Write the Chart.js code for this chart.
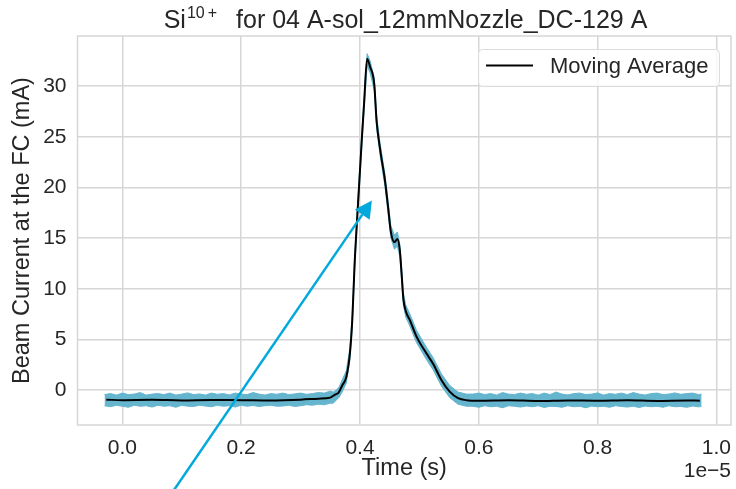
<!DOCTYPE html>
<html>
<head>
<meta charset="utf-8">
<script src="https://cdn.jsdelivr.net/npm/chart.js@4.4.1/dist/chart.umd.min.js"></script>
<style>
    html, body { margin: 0; padding: 0; background: #fff; }
    #beamChart { display: block; }
</style>
</head>
<body>
<canvas id="beamChart" width="736" height="489"></canvas>
<script>
// =========================================================================
// DATA (time in units of 1e-5 s, current in mA)
// =========================================================================
const maTime = [-0.027, 0.0, 0.05, 0.1, 0.15, 0.2, 0.25, 0.3, 0.33, 0.35, 0.358, 0.364, 0.37, 0.377, 0.383, 0.387, 0.391, 0.397, 0.403, 0.407,
    0.412, 0.417, 0.424, 0.428, 0.434, 0.442, 0.447, 0.452, 0.458, 0.463, 0.467, 0.47, 0.473, 0.477, 0.484, 0.495, 0.512, 0.523, 0.537, 0.551,
    0.565, 0.579, 0.6, 0.65, 0.7, 0.75, 0.8, 0.85, 0.9, 0.95, 0.972];
const maValue = [-0.95, -1.0, -0.97, -1.02, -0.98, -1.0, -1.03, -0.95, -0.85, -0.75, -0.45, -0.25, 0.45, 1.3, 3.6, 6.9, 12.5, 18.7, 24.7, 28.4,
    32.7, 31.9, 30.2, 26.5, 23.7, 20.7, 18.2, 15.6, 14.6, 14.9, 13.8, 11.5, 9.0, 7.8, 6.9, 5.3, 3.6, 2.6, 1.0, -0.16,
    -0.8, -1.0, -1.05, -1.0, -1.08, -1.02, -1.05, -1.0, -1.07, -1.03, -1.05];

// raw signal envelope (upper / lower edge of the noisy trace)
const bandTime = [-0.03, -0.02, -0.01, 0.0, 0.01, 0.02, 0.03, 0.04, 0.05, 0.06, 0.07, 0.08, 0.09, 0.1, 0.11, 0.12, 0.13, 0.14, 0.15, 0.16,
    0.17, 0.18, 0.19, 0.2, 0.21, 0.22, 0.23, 0.24, 0.25, 0.26, 0.27, 0.28, 0.29, 0.3, 0.31, 0.32, 0.33, 0.34, 0.35,
    0.355, 0.36, 0.365, 0.37, 0.377, 0.383, 0.387, 0.391, 0.397, 0.403, 0.407, 0.412, 0.417, 0.424, 0.428, 0.434, 0.442, 0.447, 0.452, 0.458,
    0.463, 0.467, 0.47, 0.473, 0.477, 0.484, 0.495, 0.512, 0.523, 0.537, 0.551, 0.565, 0.579,
    0.59, 0.6, 0.61, 0.62, 0.63, 0.64, 0.65, 0.66, 0.67, 0.68, 0.69, 0.7, 0.71, 0.72, 0.73, 0.74, 0.75, 0.76, 0.77, 0.78,
    0.79, 0.8, 0.81, 0.82, 0.83, 0.84, 0.85, 0.86, 0.87, 0.88, 0.89, 0.9, 0.91, 0.92, 0.93, 0.94, 0.95, 0.96, 0.97, 0.975];
const bandHigh = [-0.45, -0.35, -0.5, -0.3, -0.45, -0.4, -0.25, -0.5, -0.4, -0.35, -0.45, -0.3, -0.5, -0.4, -0.28, -0.45, -0.38, -0.5, -0.3, -0.42,
    -0.35, -0.48, -0.3, -0.4, -0.45, -0.25, -0.4, -0.5, -0.35, -0.42, -0.3, -0.45, -0.38, -0.3, -0.42, -0.35, -0.25, -0.3, -0.1,
    -0.2, 0.0, 0.3, 1.0, 1.9, 4.2, 7.5, 13.1, 19.3, 25.3, 29.0, 33.2, 32.5, 30.8, 27.1, 24.3, 21.3, 18.8, 16.2, 15.3,
    15.6, 14.4, 12.1, 9.6, 8.4, 7.5, 5.9, 4.2, 3.2, 1.6, 0.45, -0.2, -0.4,
    -0.4, -0.3, -0.45, -0.35, -0.5, -0.25, -0.4, -0.45, -0.3, -0.42, -0.35, -0.5, -0.3, -0.45, -0.2, -0.4, -0.48, -0.35, -0.3, -0.45,
    -0.4, -0.28, -0.5, -0.35, -0.42, -0.3, -0.45, -0.25, -0.4, -0.5, -0.35, -0.3, -0.45, -0.4, -0.28, -0.42, -0.35, -0.3, -0.45, -0.4];
const bandLow = [-1.55, -1.65, -1.5, -1.6, -1.7, -1.5, -1.6, -1.55, -1.68, -1.5, -1.6, -1.55, -1.7, -1.5, -1.6, -1.62, -1.5, -1.58, -1.65, -1.5,
    -1.6, -1.55, -1.68, -1.5, -1.6, -1.52, -1.62, -1.55, -1.5, -1.6, -1.58, -1.5, -1.62, -1.55, -1.45, -1.5, -1.4, -1.45, -1.3,
    -1.3, -1.0, -0.7, -0.2, 0.7, 3.0, 6.3, 11.9, 18.1, 24.1, 27.8, 32.0, 31.3, 29.6, 25.9, 23.1, 20.1, 17.6, 15.0, 13.9,
    14.2, 13.2, 10.9, 8.4, 7.2, 6.3, 4.7, 3.0, 2.0, 0.4, -0.75, -1.4, -1.6,
    -1.6, -1.7, -1.55, -1.65, -1.6, -1.75, -1.55, -1.6, -1.68, -1.58, -1.65, -1.55, -1.72, -1.6, -1.62, -1.7, -1.55, -1.65, -1.6, -1.75,
    -1.58, -1.65, -1.6, -1.7, -1.55, -1.62, -1.68, -1.6, -1.72, -1.58, -1.65, -1.6, -1.7, -1.55, -1.65, -1.62, -1.7, -1.58, -1.66, -1.6];

const xTicks = [0.0, 0.2, 0.4, 0.6, 0.8, 1.0];
const yTicks = [0, 5, 10, 15, 20, 25, 30];

// annotation arrow (data coords)
const arrowTail = [0.062, -12];
const arrowTip = [0.42, 18.7];

// =========================================================================
// STYLE
// =========================================================================
const FONT = '"Liberation Sans", Arial, sans-serif';
const TEXT = '#262626';
const GRID = '#d6d6d6';
const RAW = '#64b5cd';
const ARROW = '#03a9db';

const toXY = (xs, ys) => xs.map((v, i) => ({ x: v, y: ys[i] }));

const overlay = {
    id: 'overlay',
    afterDraw(chart) {
        const { ctx, chartArea: a, scales: { x, y } } = chart;
        ctx.save();

        // frame (spines)
        ctx.strokeStyle = GRID;
        ctx.lineWidth = 1.5;
        ctx.strokeRect(a.left, a.top, a.right - a.left, a.bottom - a.top);

        // arrow
        const p0 = { x: x.getPixelForValue(arrowTail[0]), y: y.getPixelForValue(arrowTail[1]) };
        const p1 = { x: x.getPixelForValue(arrowTip[0]), y: y.getPixelForValue(arrowTip[1]) };
        const ang = Math.atan2(p1.y - p0.y, p1.x - p0.x);
        const headLen = 17, headHalf = 9;
        const bx = p1.x - headLen * Math.cos(ang), by = p1.y - headLen * Math.sin(ang);
        ctx.strokeStyle = ARROW;
        ctx.fillStyle = ARROW;
        ctx.lineWidth = 2.5;
        ctx.beginPath();
        ctx.moveTo(p0.x, p0.y);
        ctx.lineTo(bx, by);
        ctx.stroke();
        ctx.beginPath();
        ctx.moveTo(p1.x, p1.y);
        ctx.lineTo(bx + headHalf * Math.sin(ang), by - headHalf * Math.cos(ang));
        ctx.lineTo(bx - headHalf * Math.sin(ang), by + headHalf * Math.cos(ang));
        ctx.closePath();
        ctx.fill();

        // legend
        ctx.fillStyle = 'rgba(255,255,255,0.8)';
        ctx.strokeStyle = '#dcdcdc';
        ctx.lineWidth = 1;
        ctx.beginPath();
        ctx.roundRect(478.5, 49.5, 241, 37, 4);
        ctx.fill();
        ctx.stroke();
        ctx.strokeStyle = '#000';
        ctx.lineWidth = 2;
        ctx.beginPath();
        ctx.moveTo(486, 65.5);
        ctx.lineTo(533, 65.5);
        ctx.stroke();
        ctx.fillStyle = TEXT;
        ctx.font = '22px ' + FONT;
        ctx.textAlign = 'left';
        ctx.textBaseline = 'middle';
        ctx.fillText('Moving Average', 550, 67);

        // title with superscript "10 +"
        ctx.textBaseline = 'alphabetic';
        const mainFont = '25px ' + FONT, supFont = '16px ' + FONT;
        ctx.font = mainFont;
        const wSi = ctx.measureText('Si').width;
        const rest = 'for 04 A-sol_12mmNozzle_DC-129 A';
        const wRest = ctx.measureText(rest).width;
        ctx.font = supFont;
        const w10 = ctx.measureText('10').width;
        const wPlus = ctx.measureText('+').width;
        const supGap = 3, gap = 19;
        let tx = 405.5 - (wSi + 1 + w10 + supGap + wPlus + gap + wRest) / 2;
        ctx.font = mainFont;
        ctx.fillText('Si', tx, 28);
        tx += wSi + 1;
        ctx.font = supFont;
        ctx.fillText('10', tx, 18);
        tx += w10 + supGap;
        ctx.fillText('+', tx, 18);
        tx += wPlus + gap;
        ctx.font = mainFont;
        ctx.fillText(rest, tx, 28);

        // offset text for x axis
        ctx.font = '21px ' + FONT;
        ctx.textAlign = 'right';
        ctx.fillText('1e\u22125', a.right, 477);

        ctx.restore();
    }
};

new Chart(document.getElementById('beamChart'), {
    type: 'line',
    data: {
        datasets: [
            {
                label: 'Moving Average',
                data: toXY(maTime, maValue),
                borderColor: '#000000',
                borderWidth: 2,
                pointRadius: 0,
                cubicInterpolationMode: 'monotone',
                fill: false,
                order: 0
            },
            {
                label: 'Raw high',
                data: toXY(bandTime, bandHigh),
                borderColor: RAW,
                backgroundColor: RAW,
                borderWidth: 1,
                pointRadius: 0,
                tension: 0,
                fill: '+1',
                order: 1
            },
            {
                label: 'Raw low',
                data: toXY(bandTime, bandLow),
                borderColor: RAW,
                borderWidth: 1,
                pointRadius: 0,
                tension: 0,
                fill: false,
                order: 2
            }
        ]
    },
    options: {
        responsive: false,
        animation: false,
        devicePixelRatio: 1,
        layout: { padding: { top: 36, right: 5, left: 0, bottom: 0 } },
        plugins: {
            legend: { display: false },
            title: { display: false },
            tooltip: { enabled: false }
        },
        scales: {
            x: {
                type: 'linear',
                min: -0.0755,
                max: 1.0245,
                afterBuildTicks: (s) => { s.ticks = xTicks.map(v => ({ value: v })); },
                afterFit: (s) => { s.height = 64; s.paddingLeft = 0; s.paddingRight = 0; },
                grid: { color: GRID, lineWidth: 1.5, drawTicks: false },
                border: { display: false },
                ticks: {
                    color: TEXT,
                    padding: 11,
                    maxRotation: 0,
                    font: { family: FONT, size: 21 },
                    callback: (v) => v.toFixed(1)
                },
                title: {
                    display: true,
                    text: 'Time (s)',
                    color: TEXT,
                    font: { family: FONT, size: 23.5, lineHeight: 1 },
                    padding: { top: 0, bottom: 9 }
                }
            },
            y: {
                type: 'linear',
                min: -3.45,
                max: 34.94,
                afterBuildTicks: (s) => { s.ticks = yTicks.map(v => ({ value: v })); },
                afterFit: (s) => { s.width = 77.5; },
                grid: { color: GRID, lineWidth: 1.5, drawTicks: false },
                border: { display: false },
                ticks: {
                    color: TEXT,
                    padding: 11,
                    font: { family: FONT, size: 21 },
                    callback: (v) => String(v)
                },
                title: {
                    display: true,
                    text: 'Beam Current at the FC (mA)',
                    color: TEXT,
                    font: { family: FONT, size: 23.5, lineHeight: 1 },
                    padding: { top: 11, bottom: 0 }
                }
            }
        }
    },
    plugins: [overlay]
});
</script>
</body>
</html>
